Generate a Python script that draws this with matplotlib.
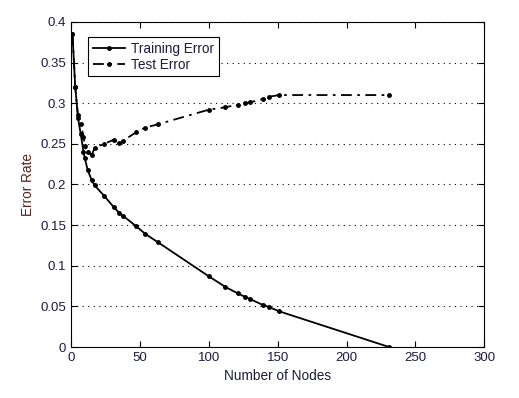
import matplotlib.pyplot as plt

plt.rcParams['font.family'] = ['Liberation Sans', 'DejaVu Sans']

nodes = [1, 3, 5, 7, 9, 10, 12, 15, 17, 24, 31, 35, 38, 47, 54, 63,
         100, 112, 121, 126, 130, 139, 144, 151, 231]
train_err = [0.385, 0.320, 0.282, 0.262, 0.240, 0.232, 0.218, 0.205, 0.199,
             0.186, 0.172, 0.165, 0.161, 0.149, 0.139, 0.129,
             0.087, 0.074, 0.066, 0.062, 0.059, 0.052, 0.049, 0.044, 0.0]
test_err = [0.385, 0.320, 0.285, 0.275, 0.259, 0.247, 0.240, 0.236, 0.245,
            0.250, 0.255, 0.251, 0.254, 0.264, 0.270, 0.274,
            0.292, 0.295, 0.298, 0.300, 0.301, 0.305, 0.308, 0.310, 0.310]

xticks = [0, 50, 100, 150, 200, 250, 300]
yticks = [0, 0.05, 0.1, 0.15, 0.2, 0.25, 0.3, 0.35, 0.4]
ytick_labels = ['0', '0.05', '0.1', '0.15', '0.2', '0.25', '0.3', '0.35', '0.4']

tick_color = '#1c1c3c'

fig = plt.figure(figsize=(5.19, 3.98), dpi=100)
ax = fig.add_axes([0.137, 0.128, 0.796, 0.817])

ax.plot(nodes, train_err, '-', color='black', lw=1.3, marker='o', ms=2.5,
        label='Training Error')
ax.plot(nodes, test_err, '-.', color='black', lw=1.3, marker='o', ms=2.5,
        label='Test Error', dashes=[6, 3, 1.5, 3])

ax.set_xlim(0, 300)
ax.set_ylim(0, 0.4)
ax.set_xticks(xticks)
ax.set_yticks(yticks)
ax.set_yticklabels(ytick_labels)
ax.tick_params(direction='in', top=True, right=True, labelsize=9.5,
               labelcolor=tick_color, length=4, width=0.8)
ax.yaxis.grid(True, linestyle=(0, (1, 4)), color='black', lw=0.8)
for s in ax.spines.values():
    s.set_linewidth(0.8)

ax.set_xlabel('Number of Nodes', fontsize=9.8, color=tick_color)
ax.set_ylabel('Error Rate', fontsize=9.8, color='#5a2418')

leg = ax.legend(loc='upper left', bbox_to_anchor=(0.041, 0.954),
                borderaxespad=0, fontsize=9.8,
                fancybox=False, edgecolor='black', framealpha=1,
                handlelength=2.4, handletextpad=0.4, borderpad=0.35,
                labelspacing=0.15)
leg.get_frame().set_linewidth(0.8)
for t in leg.get_texts():
    t.set_color(tick_color)

fig.savefig('out.png', dpi=100)
